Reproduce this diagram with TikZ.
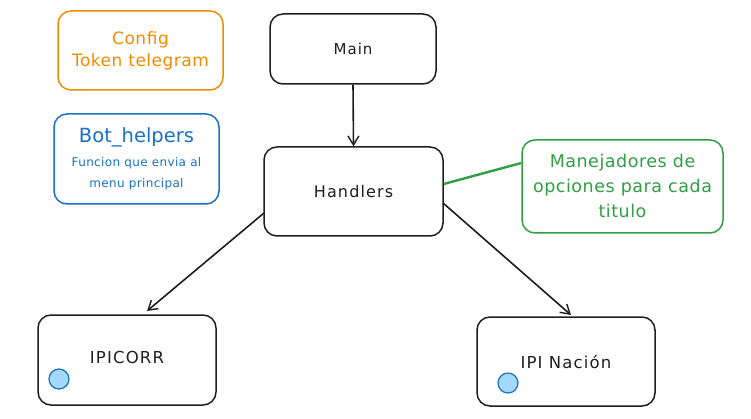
\documentclass[tikz,border=0pt]{standalone}
\usepackage{fontspec}
\setmainfont{DejaVu Sans}
\newfontfamily\widefont[LetterSpace=7]{DejaVu Sans}
\newfontfamily\midfont[LetterSpace=3]{DejaVu Sans}
\usetikzlibrary{arrows.meta}
\definecolor{cOrange}{HTML}{F08C00}
\definecolor{cBlue}{HTML}{1971C2}
\definecolor{cGreen}{HTML}{2F9E44}
\definecolor{cFill}{HTML}{A5D8FF}
\definecolor{cInk}{HTML}{1E1E1E}
\tikzset{
  box/.style={draw=#1, line width=1.5pt, rounded corners=13pt, text=#1, align=center, inner sep=0pt},
  conn/.style={draw=cInk, line width=1.6pt, -{Straight Barb[length=9pt,width=11pt,line width=1.4pt]}},
  dot/.style={circle, draw=cBlue, fill=cFill, line width=1.2pt, minimum size=20pt, inner sep=0pt}
}
\begin{document}
\begin{tikzpicture}[x=1pt,y=-1pt]
\useasboundingbox (0,0) rectangle (751,419);
\node[box=cOrange, minimum width=165pt, minimum height=79pt] (config) at (140.5,50.5) {};
\node[text=cOrange, font=\midfont\fontsize{17}{22}\selectfont, align=center] (configt) at (140.5,51) {Config\\Token telegram};
\node[box=cBlue, minimum width=165pt, minimum height=90pt] (helpers) at (136.5,159) {};
\node[text=cBlue, font=\fontsize{19.5}{24}\selectfont] (helperst) at (136.5,137) {Bot\_helpers};
\node[text=cBlue, font=\midfont\fontsize{12}{21}\selectfont, align=center] (helperss) at (136.5,173.5) {Funcion que envia al\\menu principal};
\node[box=cInk, minimum width=166pt, minimum height=70pt, font=\widefont\fontsize{15}{18}\selectfont] (main) at (353,49) {Main};
\node[box=cInk, minimum width=179pt, minimum height=89pt, font=\widefont\fontsize{16}{19}\selectfont] (handlers) at (353.5,191.5) {Handlers};
\node[box=cGreen, minimum width=201pt, minimum height=93pt] (manej) at (622.5,186.5) {};
\node[text=cGreen, font=\midfont\fontsize{17.5}{25}\selectfont, align=center] (manejt) at (622.5,185.5) {Manejadores de\\opciones para cada\\titulo};
\node[box=cInk, minimum width=178pt, minimum height=90pt] (ipicorr) at (127,360) {};
\node[text=cInk, font=\widefont\fontsize{16.5}{19}\selectfont] (ipicorrt) at (127,357) {IPICORR};
\node[dot] (d1) at (59,379) {};
\node[box=cInk, minimum width=178pt, minimum height=89pt] (ipin) at (566,361.5) {};
\node[text=cInk, font=\widefont\fontsize{16.5}{19}\selectfont] (ipint) at (566,362) {IPI Nación};
\node[dot] (d2) at (508,383) {};
\draw[conn] (main.south) -- (handlers.north);
\coordinate (h1) at (264,213);
\coordinate (t1) at (147,311);
\coordinate (h2) at (443,203);
\coordinate (t2) at (571,315);
\draw[conn] (h1) -- (t1);
\draw[conn] (h2) -- (t2);
\draw[cGreen, line width=2.4pt] (handlers.east |- 0,184) -- (manej.west |- 0,163);
\end{tikzpicture}
\end{document}
